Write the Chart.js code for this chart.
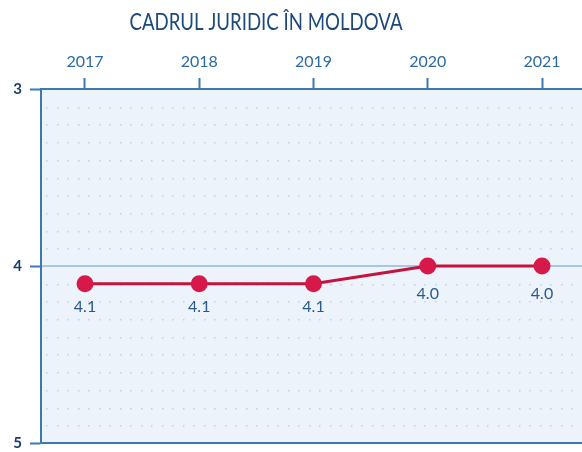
<!DOCTYPE html>
<html><head><meta charset="utf-8">
<script src="https://cdn.jsdelivr.net/npm/chart.js@4/dist/chart.umd.min.js"></script>
<style>html,body{margin:0;padding:0;background:#fff;overflow:hidden}#wrap{width:582px;height:452px}canvas{display:block}</style>
</head><body><div id="wrap"><canvas id="c" width="582" height="452"></canvas></div>
<script>
const chartTitle = "CADRUL JURIDIC ÎN MOLDOVA";
const years = [2017, 2018, 2019, 2020, 2021];
const scores = [4.1, 4.1, 4.1, 4.0, 4.0];
const yTicks = [3, 4, 5];
const gridStep = 0.1;

const FONT = "Lato, 'Open Sans', sans-serif";
const AXIS = '#3b78b4';

const decor = {
  id: 'decor',
  beforeDraw(chart) {
    const {ctx, chartArea: a, scales: {y}} = chart;
    ctx.save();
    ctx.fillStyle = '#edf3fb';
    ctx.fillRect(a.left, a.top, a.right - a.left, a.bottom - a.top);
    // dotted grid
    ctx.fillStyle = '#c6cfdb';
    for (let v = 3 + gridStep; v < 5 - 1e-6; v += gridStep) {
      if (Math.abs(v - 4) < 1e-6) continue;
      const py = Math.round(y.getPixelForValue(v));
      for (let px = a.left + 5; px < a.right; px += 10.5) {
        ctx.fillRect(Math.round(px), py, 1.5, 1.5);
      }
    }
    // line at 4
    ctx.strokeStyle = '#a9c7e2';
    ctx.lineWidth = 2;
    const p4 = y.getPixelForValue(4);
    ctx.beginPath(); ctx.moveTo(a.left, p4); ctx.lineTo(a.right, p4); ctx.stroke();
    // bottom border
    ctx.strokeStyle = AXIS;
    ctx.lineWidth = 2;
    ctx.beginPath(); ctx.moveTo(a.left - 1, a.bottom); ctx.lineTo(a.right, a.bottom); ctx.stroke();
    // title
    ctx.fillStyle = '#1d4a7a';
    ctx.font = '23px ' + FONT;
    ctx.textAlign = 'center';
    ctx.textBaseline = 'middle';
    const w = ctx.measureText(chartTitle).width;
    const sx = 273 / w;
    ctx.translate(266, 23);
    ctx.scale(sx, 1);
    ctx.fillText(chartTitle, 0, 0);
    ctx.restore();
  },
  afterDatasetsDraw(chart) {
    const {ctx} = chart;
    const meta = chart.getDatasetMeta(0);
    ctx.save();
    ctx.fillStyle = '#2a5a8c';
    ctx.font = '16px ' + FONT;
    ctx.textAlign = 'center';
    ctx.textBaseline = 'middle';
    meta.data.forEach((pt, i) => {
      ctx.fillText(scores[i].toFixed(1), pt.x, pt.y + (scores[i] >= 4.05 ? 23 : 28));
    });
    ctx.restore();
  }
};

new Chart(document.getElementById('c'), {
  type: 'line',
  data: {
    datasets: [{
      data: years.map((yr, i) => ({x: yr, y: scores[i]})),
      borderColor: '#c4133d',
      backgroundColor: '#d6184a',
      borderWidth: 3,
      pointRadius: 8.5,
      pointHoverRadius: 8.5,
      pointBorderWidth: 0,
      tension: 0
    }]
  },
  options: {
    responsive: false,
    animation: false,
    events: [],
    layout: {autoPadding: false, padding: {top: 45, right: 0, bottom: 9, left: 0}},
    plugins: {legend: {display: false}, title: {display: false}, tooltip: {enabled: false}},
    scales: {
      x: {
        type: 'linear',
        position: 'top',
        min: 2016.615,
        max: 2021.35,
        afterBuildTicks: s => { s.ticks = years.map(v => ({value: v})); },
        afterFit: s => { s.height = 44; s.paddingLeft = 0; s.paddingRight = 0; },
        ticks: {
          color: '#2b6aa3',
          font: {family: FONT, size: 16},
          padding: 7,
          maxRotation: 0,
          callback: v => String(v)
        },
        grid: {drawOnChartArea: false, drawTicks: true, tickLength: 11, tickColor: AXIS, tickWidth: 2},
        border: {color: AXIS, width: 2}
      },
      y: {
        reverse: true,
        min: 3,
        max: 5,
        afterBuildTicks: s => { s.ticks = yTicks.map(v => ({value: v})); },
        afterFit: s => { s.width = 41; s.paddingTop = 0; s.paddingBottom = 0; },
        ticks: {
          color: '#1b3d6b',
          font: {family: FONT, size: 15, weight: 'bold'},
          padding: 8,
          callback: v => String(v)
        },
        grid: {drawOnChartArea: false, drawTicks: true, tickLength: 11, tickColor: AXIS, tickWidth: 2},
        border: {color: AXIS, width: 2}
      }
    }
  },
  plugins: [decor]
});
</script></body></html>
